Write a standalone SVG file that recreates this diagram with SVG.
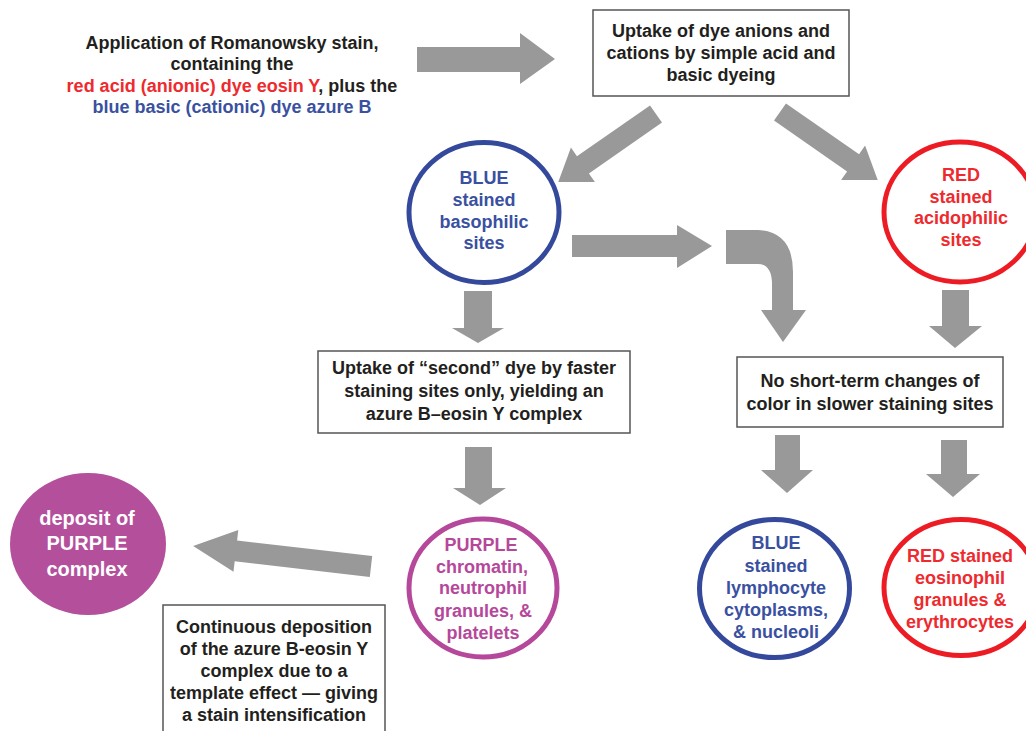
<svg xmlns="http://www.w3.org/2000/svg" width="1026" height="731" viewBox="0 0 1026 731">
<style>
text{font-family:"Liberation Sans",Arial,sans-serif;font-weight:bold;font-size:18px;text-anchor:middle}
.k{fill:#231f20}.r{fill:#ee2a2e}.b{fill:#3a50a0}.p{fill:#b5489a}.w{fill:#ffffff;font-size:20px}
.box{fill:#ffffff;stroke:#555;stroke-width:1.5}
.arr{fill:#999999}
.ring{fill:none;stroke-width:5}
</style>
<defs>
<polygon id="diag" points="0,-10.5 89,-10.5 89,-21 119,0 89,21 89,10.5 0,10.5"/>
</defs>
<rect width="1026" height="731" fill="#ffffff"/>
<g id="connectors" class="arr">
<polygon points="417,47 520,47 520,33 555,59 520,84 520,72 417,72"/>
<use href="#diag" transform="translate(656,114) rotate(145.2)"/>
<use href="#diag" transform="translate(780,112) rotate(34.8)"/>
<polygon points="572,235 677,235 677,225 712,246 677,268 677,257 572,257"/>
<path d="M726,230 L758,230 Q793,232 793,272 L793,310 L806,310 L783,342 L761,310 L772,310 L772,282 Q771,264 758,264 L726,264 Z"/>
<polygon points="464,291 492,291 492,328 504,328 478,343 452,328 464,328"/>
<polygon points="942,290 969,290 969,326 982,326 955,348 929,326 942,326"/>
<polygon points="465,447 492,447 492,488 506,488 480,505 453,488 465,488"/>
<polygon points="775,435 800,435 800,470 813,470 787,493 761,470 775,470"/>
<polygon points="941,440 967,440 967,474 980,474 953,497 926,474 941,474"/>
<polygon points="0,-10.5 136,-10.5 136,-21 179,0 136,21 136,10.5 0,10.5" transform="translate(371,566.5) rotate(186.57)"/>
</g>
<g id="start">
<text x="232" y="49" class="k">Application of Romanowsky stain,</text>
<text x="232" y="70" class="k">containing the</text>
<text x="232" y="92"><tspan class="r">red acid (anionic) dye eosin Y</tspan><tspan class="k">, plus the</tspan></text>
<text x="232" y="113" class="b">blue basic (cationic) dye azure B</text>
</g>
<g id="uptake">
<rect x="593" y="10" width="256" height="86" class="box"/>
<text x="721" y="37" class="k">Uptake of dye anions and</text>
<text x="721" y="59" class="k">cations by simple acid and</text>
<text x="721" y="81" class="k">basic dyeing</text>
</g>
<g id="blue-sites">
<ellipse cx="484" cy="212.5" rx="75" ry="70" class="ring" stroke="#34499b"/>
<text x="484" y="184" class="b">BLUE</text>
<text x="484" y="206" class="b">stained</text>
<text x="484" y="228" class="b">basophilic</text>
<text x="484" y="249" class="b">sites</text>
</g>
<g id="red-sites">
<ellipse cx="960" cy="212" rx="76" ry="70" class="ring" stroke="#ed1c24"/>
<text x="961" y="181" class="r">RED</text>
<text x="961" y="203" class="r">stained</text>
<text x="961" y="224" class="r">acidophilic</text>
<text x="961" y="246" class="r">sites</text>
</g>
<g id="second-dye">
<rect x="318" y="351" width="312" height="82" class="box"/>
<text x="474" y="374" class="k">Uptake of “second” dye by faster</text>
<text x="474" y="397" class="k">staining sites only, yielding an</text>
<text x="474" y="420" class="k">azure B–eosin Y complex</text>
</g>
<g id="no-change">
<rect x="737" y="357" width="266" height="70" class="box"/>
<text x="870" y="387" class="k">No short-term changes of</text>
<text x="870" y="410" class="k">color in slower staining sites</text>
</g>
<g id="purple-sites">
<ellipse cx="483" cy="588" rx="74" ry="69" class="ring" stroke="#b5489a"/>
<text x="481" y="551" class="p">PURPLE</text>
<text x="482" y="573" class="p">chromatin,</text>
<text x="483" y="594" class="p">neutrophil</text>
<text x="483" y="617" class="p">granules, &amp;</text>
<text x="483" y="639" class="p">platelets</text>
</g>
<g id="deposit">
<ellipse cx="88" cy="544" rx="78" ry="71" fill="#b44f9c"/>
<text x="87" y="525" class="w">deposit of</text>
<text x="87" y="550" class="w">PURPLE</text>
<text x="87" y="576" class="w">complex</text>
</g>
<g id="continuous">
<path d="M163,731 L163,605 L385,605 L385,731" class="box"/>
<text x="274" y="633" class="k">Continuous deposition</text>
<text x="274" y="655" class="k">of the azure B-eosin Y</text>
<text x="274" y="677" class="k">complex due to a</text>
<text x="274" y="699" class="k">template effect — giving</text>
<text x="274" y="721" class="k">a stain  intensification</text>
</g>
<g id="blue-cells">
<ellipse cx="774.5" cy="588.5" rx="75" ry="69" class="ring" stroke="#34499b"/>
<text x="776" y="549" class="b">BLUE</text>
<text x="776" y="572" class="b">stained</text>
<text x="776" y="594" class="b">lymphocyte</text>
<text x="776" y="616" class="b">cytoplasms,</text>
<text x="776" y="638" class="b">&amp; nucleoli</text>
</g>
<g id="red-cells">
<ellipse cx="961" cy="587.5" rx="77" ry="68" class="ring" stroke="#ed1c24"/>
<text x="960" y="562" class="r">RED stained</text>
<text x="960" y="584" class="r">eosinophil</text>
<text x="960" y="606" class="r">granules &amp;</text>
<text x="960" y="628" class="r">erythrocytes</text>
</g>
</svg>
